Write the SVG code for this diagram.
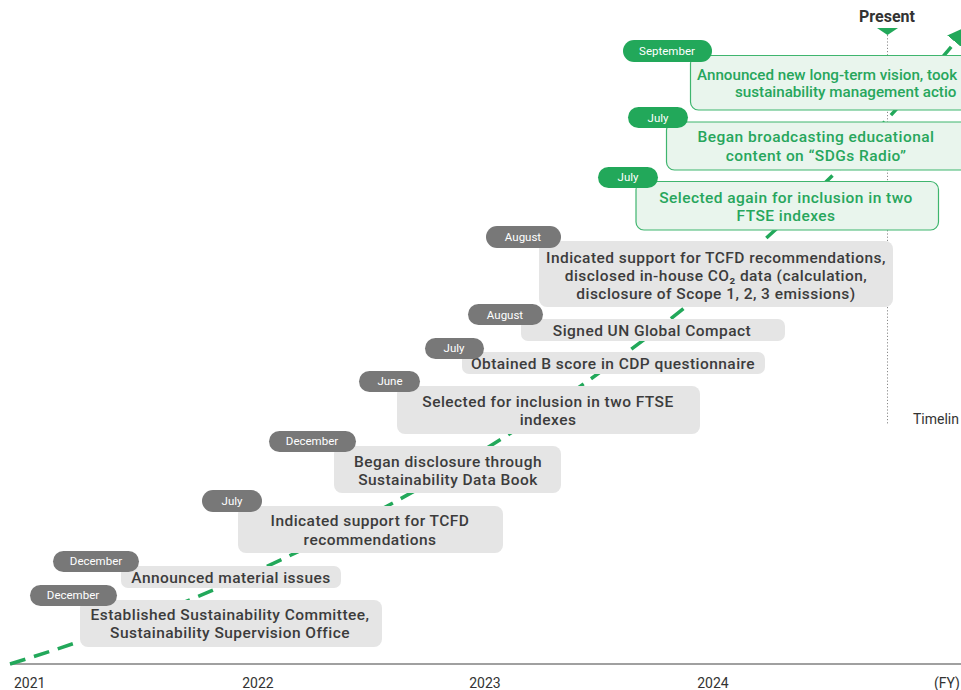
<svg xmlns="http://www.w3.org/2000/svg" width="961" height="690" viewBox="0 0 961 690">
<style>
.bx{fill:#e5e5e5}
.bt{font-family:Roboto,"Liberation Sans",sans-serif;font-weight:500;font-size:15.5px;letter-spacing:0.45px;fill:#3c3c3c;text-anchor:middle}
.gbx{fill:#e9f5ed;stroke:#3fb56e;stroke-width:1.2}
.gt{font-family:Roboto,"Liberation Sans",sans-serif;font-weight:500;font-size:15.5px;letter-spacing:0.45px;fill:#27a65c;text-anchor:middle}
.st{text-anchor:start;font-size:15.2px;letter-spacing:0px}
.pl{fill:#787878}
.gpl{fill:#22a85a}
.pt{font-family:Roboto,"Liberation Sans",sans-serif;font-size:11.5px;fill:#ffffff;text-anchor:middle}
.ax{font-family:Roboto,"Liberation Sans",sans-serif;font-size:14px;fill:#333333}
</style>
<defs>
<marker id="ah" markerWidth="6" markerHeight="6" refX="3" refY="3" orient="auto" markerUnits="strokeWidth">
<path d="M0,0 L6,3 L0,6 z" fill="#22a85a"/>
</marker>
</defs>
<rect width="961" height="690" fill="#ffffff"/>
<g id="axis">
<line x1="10" y1="664" x2="961" y2="664" stroke="#808080" stroke-width="1.5"/>
<text class="ax" x="14" y="688">2021</text>
<text class="ax" x="258" y="688" text-anchor="middle">2022</text>
<text class="ax" x="485" y="688" text-anchor="middle">2023</text>
<text class="ax" x="713" y="688" text-anchor="middle">2024</text>
<text class="ax" x="934" y="688">(FY)</text>
</g>
<g id="present">
<line x1="887.5" y1="35" x2="887.5" y2="425" stroke="#8a8a8a" stroke-width="1" stroke-dasharray="1.2 2"/>
<path d="M877,28 L898,28 L887.5,35 z" fill="#22a85a"/>
<text x="887" y="22" text-anchor="middle" font-family="Roboto,'Liberation Sans',sans-serif" font-weight="700" font-size="16" fill="#333333">Present</text>
<text class="ax" x="913" y="424">Timelin</text>
</g>
<g id="connectors">
<path d="M10,664 C400,545 725,320 962,34" fill="none" stroke="#22a85a" stroke-width="3.5" stroke-dasharray="16 9" marker-end="url(#ah)"/>
</g>
<g id="n1">
<rect class="bx" x="80" y="600" width="302" height="47" rx="8"/>
<text class="bt" x="230" y="620">Established Sustainability Committee,</text>
<text class="bt" x="230" y="638">Sustainability Supervision Office</text>
<rect class="pl" x="30" y="585" width="87" height="21" rx="10.5"/>
<text class="pt" x="73" y="599">December</text>
</g>
<g id="n2">
<rect class="bx" x="121" y="566" width="220" height="22" rx="7"/>
<text class="bt" x="231" y="583">Announced material issues</text>
<rect class="pl" x="53" y="551" width="86" height="21" rx="10.5"/>
<text class="pt" x="96" y="565">December</text>
</g>
<g id="n3">
<rect class="bx" x="238" y="506" width="265" height="47" rx="8"/>
<text class="bt" x="370" y="526">Indicated support for TCFD</text>
<text class="bt" x="370" y="545">recommendations</text>
<rect class="pl" x="202" y="490" width="60" height="22" rx="11"/>
<text class="pt" x="232" y="505">July</text>
</g>
<g id="n4">
<rect class="bx" x="334" y="446" width="227" height="47" rx="8"/>
<text class="bt" x="448" y="467">Began disclosure through</text>
<text class="bt" x="448" y="485">Sustainability Data Book</text>
<rect class="pl" x="269" y="431" width="87" height="21" rx="10.5"/>
<text class="pt" x="312" y="445">December</text>
</g>
<g id="n5">
<rect class="bx" x="397" y="386" width="303" height="48" rx="8"/>
<text class="bt" x="548" y="407">Selected for inclusion in two FTSE</text>
<text class="bt" x="548" y="425">indexes</text>
<rect class="pl" x="359" y="371" width="61" height="21" rx="10.5"/>
<text class="pt" x="390" y="385">June</text>
</g>
<g id="n6">
<rect class="bx" x="462" y="352" width="303" height="22" rx="7"/>
<text class="bt" x="613" y="369">Obtained B score in CDP questionnaire</text>
<rect class="pl" x="425" y="338" width="59" height="21" rx="10.5"/>
<text class="pt" x="454" y="352">July</text>
</g>
<g id="n7">
<rect class="bx" x="521" y="319" width="264" height="22" rx="7"/>
<text class="bt" x="652" y="336">Signed UN Global Compact</text>
<rect class="pl" x="468" y="304" width="75" height="21" rx="10.5"/>
<text class="pt" x="505" y="319">August</text>
</g>
<g id="n8">
<rect class="bx" x="539" y="241" width="354" height="66" rx="8"/>
<text class="bt" x="716" y="263">Indicated support for TCFD recommendations,</text>
<text class="bt" x="716" y="281">disclosed in-house CO₂ data (calculation,</text>
<text class="bt" x="716" y="299">disclosure of Scope 1, 2, 3 emissions)</text>
<rect class="pl" x="486" y="226" width="75" height="22" rx="11"/>
<text class="pt" x="523" y="241">August</text>
</g>
<g id="n9">
<rect class="gbx" x="636" y="181.5" width="302.5" height="48.5" rx="8"/>
<text class="gt" x="786" y="203">Selected again for inclusion in two</text>
<text class="gt" x="786" y="221">FTSE indexes</text>
<rect class="gpl" x="598" y="167" width="60" height="21" rx="10.5"/>
<text class="pt" x="628" y="181">July</text>
</g>
<g id="n10">
<rect class="gbx" x="666.5" y="122" width="310" height="48" rx="8"/>
<text class="gt" x="816" y="142">Began broadcasting educational</text>
<text class="gt" x="816" y="161">content on “SDGs Radio”</text>
<rect class="gpl" x="628" y="107" width="60" height="21" rx="10.5"/>
<text class="pt" x="658" y="122">July</text>
</g>
<g id="n11">
<rect class="gbx" x="690.5" y="55.5" width="290" height="54.5" rx="8"/>
<text class="gt st" x="697" y="80">Announced new long-term vision, took</text>
<text class="gt st" x="735" y="97">sustainability management actio</text>
<rect class="gpl" x="623" y="40" width="89" height="22" rx="11"/>
<text class="pt" x="667" y="55">September</text>
</g>
</svg>
